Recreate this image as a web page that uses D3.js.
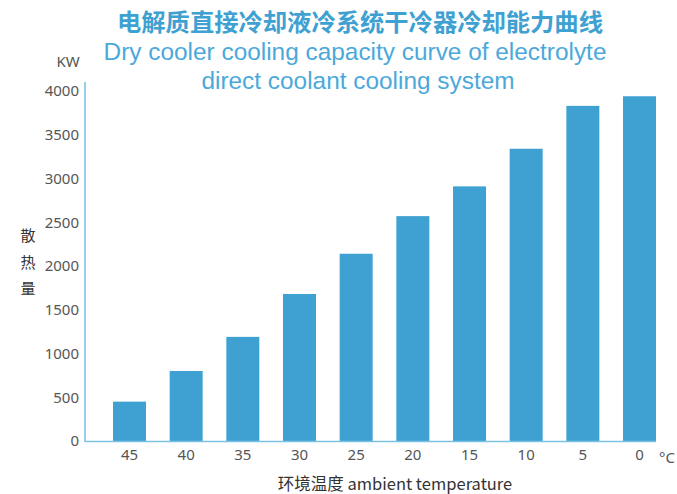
<!DOCTYPE html>
<html lang="zh">
<head>
<meta charset="utf-8">
<title>干冷器冷却能力曲线</title>
<script src="https://cdn.jsdelivr.net/npm/d3@7"></script>
<style>
  body { margin: 0; background: #fff; }
  text { font-family: "Noto Sans", "Noto Sans CJK SC", sans-serif; }
</style>
</head>
<body>
<svg id="chart" width="677" height="494"></svg>
<script>
// data
var temps = ["45", "40", "35", "30", "25", "20", "15", "10", "5", "0"];
var capacity = [450, 800, 1190, 1680, 2140, 2570, 2910, 3340, 3830, 3940];
var yTicks = [0, 500, 1000, 1500, 2000, 2500, 3000, 3500, 4000];

var svg = d3.select("#chart");
var barColor = "#3ea1d2";
var axisColor = "#7cc1e4";

var x = d3.scaleBand()
  .domain(temps)
  .range([85, 684])
  .paddingInner(0.418)
  .paddingOuter(0.494);

var y = d3.scaleLinear()
  .domain([0, 4000])
  .range([441, 91]);

// titles
svg.append("text")
  .attr("x", 360).attr("y", 31)
  .attr("text-anchor", "middle")
  .attr("font-size", 24.3).attr("font-weight", "bold")
  .attr("fill", "#3ea1d2")
  .style("font-family", "'Noto Sans CJK SC', sans-serif")
  .text("电解质直接冷却液冷系统干冷器冷却能力曲线");

svg.append("text")
  .attr("x", 355).attr("y", 60)
  .attr("text-anchor", "middle")
  .attr("font-size", 24.4)
  .attr("fill", "#4ba9da")
  .style("font-family", "'Liberation Sans', Arial, sans-serif")
  .text("Dry cooler cooling capacity curve of electrolyte");

svg.append("text")
  .attr("x", 358).attr("y", 89)
  .attr("text-anchor", "middle")
  .attr("font-size", 24.4)
  .attr("fill", "#4ba9da")
  .style("font-family", "'Liberation Sans', Arial, sans-serif")
  .text("direct coolant cooling system");

// bars
svg.selectAll("rect.bar")
  .data(capacity)
  .enter()
  .append("rect")
  .attr("class", "bar")
  .attr("x", function(d, i) { return x(temps[i]); })
  .attr("y", function(d) { return y(d); })
  .attr("width", x.bandwidth())
  .attr("height", function(d) { return y(0) - y(d); })
  .attr("fill", barColor);

// y axis
var yAxis = svg.append("g")
  .attr("transform", "translate(85,0)")
  .call(d3.axisLeft(y).tickValues(yTicks).tickFormat(d3.format("d")).tickSize(0).tickPadding(6));
yAxis.select(".domain").remove();
yAxis.selectAll("text")
  .attr("font-size", 15)
  .attr("fill", "#555")
  .style("font-family", "'Noto Sans', sans-serif");

svg.append("line")
  .attr("x1", 85).attr("x2", 85)
  .attr("y1", 82).attr("y2", 442)
  .attr("stroke", axisColor).attr("stroke-width", 1.6);

// x axis
var xAxis = svg.append("g")
  .attr("transform", "translate(0," + y(0) + ")")
  .call(d3.axisBottom(x).tickSize(0).tickPadding(8));
xAxis.select(".domain").remove();
xAxis.selectAll("text")
  .attr("font-size", 15)
  .attr("fill", "#555")
  .style("font-family", "'Noto Sans', sans-serif");

svg.append("line")
  .attr("x1", 85).attr("x2", x(temps[temps.length - 1]) + x.bandwidth())
  .attr("y1", y(0) + 0.5).attr("y2", y(0) + 0.5)
  .attr("stroke", axisColor).attr("stroke-width", 1.6);

// units and axis titles
svg.append("text")
  .attr("x", 68).attr("y", 67)
  .attr("text-anchor", "middle")
  .attr("font-size", 15).attr("fill", "#555")
  .text("KW");

svg.append("text")
  .attr("x", 667).attr("y", 463)
  .attr("text-anchor", "middle")
  .attr("font-size", 15).attr("fill", "#555")
  .text("°C");

var yLabel = ["散", "热", "量"];
svg.selectAll("text.ylab")
  .data(yLabel)
  .enter()
  .append("text")
  .attr("class", "ylab")
  .attr("x", 28)
  .attr("y", function(d, i) { return 241 + i * 26.5; })
  .attr("text-anchor", "middle")
  .attr("font-size", 15).attr("fill", "#333")
  .style("font-family", "'Noto Sans CJK SC', sans-serif")
  .text(function(d) { return d; });

svg.append("text")
  .attr("x", 395).attr("y", 490)
  .attr("text-anchor", "middle")
  .attr("font-size", 16.5).attr("fill", "#333")
  .style("font-family", "'Noto Sans CJK SC', sans-serif")
  .text("环境温度 ambient temperature");
</script>
</body>
</html>
